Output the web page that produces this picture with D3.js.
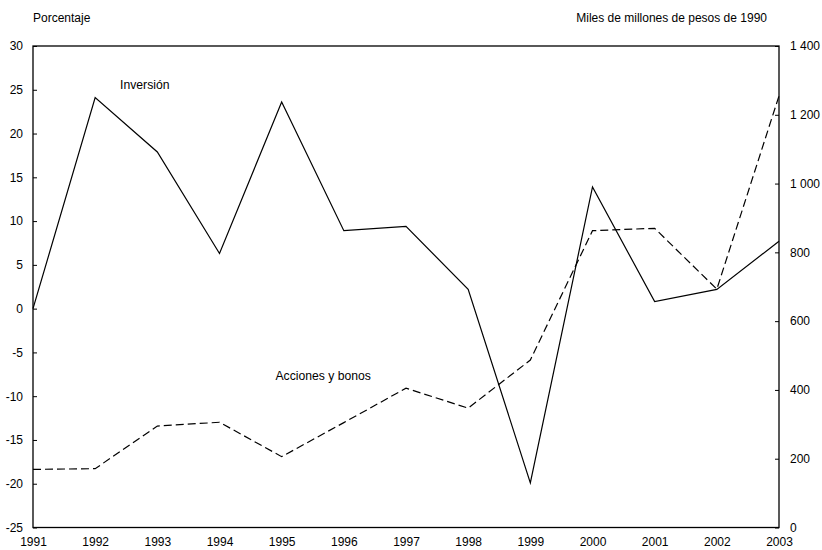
<!DOCTYPE html>
<html>
<head>
<meta charset="utf-8">
<script src="https://cdn.jsdelivr.net/npm/d3@7"></script>
<style>
  body { margin: 0; background: #fff; }
  text { font-family: "Liberation Sans", Arial, sans-serif; fill: #000; }
</style>
</head>
<body>
<div class="chart"></div>
<script>
// data
const years = [1991, 1992, 1993, 1994, 1995, 1996, 1997, 1998, 1999, 2000, 2001, 2002, 2003]
const inversion = [0, 24.1, 17.9, 6.3, 23.6, 8.9, 9.4, 2.2, -19.9, 13.9, 0.8, 2.2, 7.7]
const acciones = [169, 171, 295, 306, 206, 305, 405, 347, 487, 863, 870, 693, 1255]
const leftTicks = [30, 25, 20, 15, 10, 5, 0, -5, -10, -15, -20, -25]
const rightTicks = [0, 200, 400, 600, 800, 1000, 1200, 1400]

const W = 822, H = 550
const margin = {top: 46, right: 43, bottom: 22.5, left: 33}
const width = W - margin.left - margin.right,
      height = H - margin.top - margin.bottom

const svg = d3.select(".chart").append("svg")
    .attr("width", W)
    .attr("height", H)

const g = svg.append("g")
    .attr("transform", `translate(${margin.left},${margin.top})`)

const x = d3.scaleLinear().domain([1991, 2003]).range([0, width])
const yL = d3.scaleLinear().domain([-25, 30]).range([height, 0])
const yR = d3.scaleLinear().domain([0, 1400]).range([height, 0])

// thousands with a space, like "1 400"
const fmtR = d => d3.format(",")(d).replace(",", " ")

// left axis, ticks pointing inward
const axL = g.append("g")
    .call(d3.axisRight(yL).tickValues(leftTicks).tickSize(4).tickFormat(d => d))
axL.select(".domain").remove()
axL.selectAll("line").attr("stroke", "#000")
axL.selectAll("text")
    .attr("x", -10)
    .attr("text-anchor", "end")
    .style("font-size", "12px")

// right axis, ticks pointing inward
const axR = g.append("g")
    .attr("transform", `translate(${width},0)`)
    .call(d3.axisLeft(yR).tickValues(rightTicks).tickSize(4).tickFormat(fmtR))
axR.select(".domain").remove()
axR.selectAll("line").attr("stroke", "#000")
axR.selectAll("text")
    .attr("x", 11)
    .attr("text-anchor", "start")
    .style("font-size", "12px")

// bottom axis labels
const axB = g.append("g")
    .attr("transform", `translate(0,${height})`)
    .call(d3.axisBottom(x).tickValues(years).tickSize(0).tickFormat(d3.format("d")))
axB.select(".domain").remove()
axB.selectAll("text")
    .attr("y", 10)
    .style("font-size", "12px")

// frame
g.append("rect")
    .attr("width", width)
    .attr("height", height)
    .attr("fill", "none")
    .attr("stroke", "#000")
    .attr("stroke-width", 1.3)

const line = d3.line()

g.append("path")
    .datum(years.map((yr, i) => [x(yr), yL(inversion[i])]))
    .attr("d", line)
    .attr("fill", "none")
    .attr("stroke", "#000")
    .attr("stroke-width", 1.2)

g.append("path")
    .datum(years.map((yr, i) => [x(yr), yR(acciones[i])]))
    .attr("d", line)
    .attr("fill", "none")
    .attr("stroke", "#000")
    .attr("stroke-width", 1.2)
    .attr("stroke-dasharray", "8,4")

// series labels
g.append("text")
    .attr("x", x(1992.4))
    .attr("y", yL(25.1))
    .style("font-size", "12.2px")
    .text("Inversión")

g.append("text")
    .attr("x", x(1994.9))
    .attr("y", yL(-8.1))
    .style("font-size", "12.2px")
    .text("Acciones y bonos")

// axis titles
svg.append("text")
    .attr("x", margin.left)
    .attr("y", 22)
    .style("font-size", "12px")
    .text("Porcentaje")

svg.append("text")
    .attr("x", 767)
    .attr("y", 22)
    .attr("text-anchor", "end")
    .style("font-size", "12px")
    .text("Miles de millones de pesos de 1990")
</script>
</body>
</html>
